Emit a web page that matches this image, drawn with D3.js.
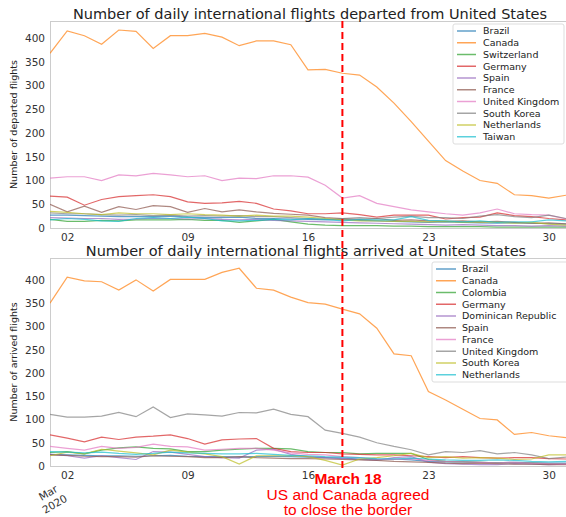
<!DOCTYPE html>
<html>
<head>
<meta charset="utf-8">
<script src="https://cdn.jsdelivr.net/npm/d3@7"></script>
<style>
  body { margin: 0; background: #fff; }
  svg { display: block; }
  text { font-family: "DejaVu Sans", sans-serif; }
</style>
</head>
<body>
<div id="chart"></div>
<script>
var W = 566, H = 517;

// days of March 2020
var days = [1,2,3,4,5,6,7,8,9,10,11,12,13,14,15,16,17,18,19,20,21,22,23,24,25,26,27,28,29,30,31];
var xTicks = [2, 9, 16, 23, 30];
var yTicks = [0, 50, 100, 150, 200, 250, 300, 350, 400];

// departed from US
var depNames = ['Brazil','Canada','Switzerland','Germany','Spain','France','United Kingdom','South Korea','Netherlands','Taiwan'];
var depBrazil  = [27,27,26,25,24,24,24,25,23,22,22,23,20,20,19,18,17,18,16,15,14,13,12,13,12,11,10,11,10,9,8];
var depCanada  = [368,415,405,387,417,414,378,405,405,410,402,384,394,394,386,333,334,326,322,297,263,224,183,142,120,100,94,70,68,63,69];
var depSwitz   = [18,14,14,16,15,17,17,17,18,16,16,12,15,18,13,8,6,5,5,5,4,4,3,3,3,3,2,2,2,2,2];
var depGermany = [67,65,48,60,66,68,70,66,55,52,53,56,52,40,36,30,30,32,28,23,27,27,27,19,22,23,32,26,24,20,17];
var depSpain   = [22,21,20,20,18,19,21,20,19,20,18,17,18,16,15,14,13,12,11,10,9,8,7,6,7,6,5,5,4,5,4];
var depFrance  = [50,34,46,33,45,39,47,45,33,41,34,38,34,31,29,27,22,20,18,20,16,17,15,14,15,13,14,12,10,11,9];
var depUK      = [105,108,108,100,112,110,115,112,108,110,100,105,104,110,110,107,90,63,68,52,45,38,34,30,27,32,40,30,28,27,19];
var depKorea   = [32,30,30,28,27,28,26,27,25,26,25,26,24,24,22,20,18,20,22,20,23,25,22,22,20,25,28,24,22,27,20];
var depNeth    = [35,33,30,28,32,30,30,28,30,28,27,25,27,25,25,23,20,17,15,15,14,14,13,14,12,13,12,10,12,8,6];
var depTaiwan  = [17,20,18,15,14,20,22,20,23,20,15,15,16,18,17,20,18,15,18,17,17,24,16,15,13,15,12,13,13,17,15];

// arrived at US
var arrNames = ['Brazil','Canada','Colombia','Germany','Dominican Republic','Spain','France','United Kingdom','South Korea','Netherlands'];
var arrBrazil  = [25,24,23,22,22,21,22,23,21,20,20,19,20,21,20,19,18,17,15,14,15,13,10,9,9,8,7,8,7,6,6];
var arrCanada  = [350,406,398,396,378,400,376,401,401,401,416,425,382,378,363,351,348,337,327,296,241,237,160,142,122,102,99,68,72,65,61];
var arrColomb  = [29,31,26,34,39,41,38,37,31,31,34,36,38,38,37,31,29,29,26,27,27,27,14,10,9,8,7,7,6,5,4];
var arrGermany = [67,60,52,62,57,62,64,67,59,47,56,58,59,38,31,29,29,26,25,24,24,22,20,18,20,18,17,18,18,16,15];
var arrDomRep  = [25,22,17,22,18,14,31,30,25,20,18,17,34,36,25,20,18,16,14,12,18,20,8,5,4,3,3,5,4,3,4];
var arrSpain   = [24,23,21,20,20,19,22,21,20,18,18,20,18,17,16,16,15,14,13,12,10,9,8,6,5,6,5,4,4,3,3];
var arrFrance  = [42,38,34,42,38,40,47,42,41,34,36,38,38,34,28,25,24,20,18,15,14,16,12,10,9,8,7,8,6,5,4];
var arrUK      = [111,105,105,107,115,106,127,104,112,110,107,115,114,122,111,106,77,70,62,50,42,35,24,31,29,33,26,29,24,16,19];
var arrKorea   = [22,30,26,36,32,28,24,34,30,26,20,4,22,22,22,20,12,2,15,18,22,27,18,20,17,18,17,14,15,24,24];
var arrNeth    = [31,30,28,30,27,25,27,30,28,27,26,26,27,25,23,22,20,19,18,16,15,17,15,13,12,12,13,12,10,9,10];

var tab10 = ['#1f77b4','#ff7f0e','#2ca02c','#d62728','#9467bd','#8c564b','#e377c2','#7f7f7f','#bcbd22','#17becf'];

var svg = d3.select('#chart').append('svg')
  .attr('width', W)
  .attr('height', H);

var x = d3.scaleTime()
  .domain([new Date(2020, 2, 1), new Date(2020, 2, 31)])
  .range([50, 566]);

function dateOf(d) { return new Date(2020, 2, d); }

function drawPanel(opts) {
  var y = d3.scaleLinear().domain([0, opts.yMax]).range([opts.bottom, opts.top]);
  var g = svg.append('g');

  g.append('clipPath').attr('id', opts.id)
    .append('rect')
    .attr('x', 50).attr('y', opts.top)
    .attr('width', W - 50).attr('height', opts.bottom - opts.top);

  // frame
  g.append('rect')
    .attr('x', 50.5).attr('y', opts.top + 0.5)
    .attr('width', W).attr('height', opts.bottom - opts.top)
    .attr('fill', 'none')
    .attr('stroke', '#cccccc')
    .attr('stroke-width', 1);

  var line = d3.line()
    .x(function(d, i) { return x(dateOf(days[i])); })
    .y(function(d) { return y(d); });

  var lines = g.append('g').attr('clip-path', 'url(#' + opts.id + ')');
  opts.series.forEach(function(s, i) {
    lines.append('path')
      .attr('d', line(s))
      .attr('fill', 'none')
      .attr('stroke', tab10[i])
      .attr('stroke-opacity', 0.7)
      .attr('stroke-width', 1.2);
  });

  var yAxis = g.append('g')
    .attr('transform', 'translate(50,0)')
    .call(d3.axisLeft(y).tickValues(yTicks).tickSize(0).tickPadding(5));
  yAxis.select('.domain').remove();
  yAxis.selectAll('text')
    .attr('fill', '#333')
    .style('font-size', '10.5px')
    .style('font-family', '"DejaVu Sans", sans-serif');

  var xAxis = g.append('g')
    .attr('transform', 'translate(0,' + opts.bottom + ')')
    .call(d3.axisBottom(x)
      .tickValues(xTicks.map(dateOf))
      .tickFormat(d3.timeFormat('%d'))
      .tickSize(0).tickPadding(6));
  xAxis.select('.domain').remove();
  xAxis.selectAll('text')
    .attr('fill', '#333')
    .style('font-size', '10.5px')
    .style('font-family', '"DejaVu Sans", sans-serif');

  // title
  svg.append('text')
    .attr('x', opts.tcx).attr('y', opts.top - 2.5)
    .attr('text-anchor', 'middle')
    .style('font-size', '14.5px')
    .attr('fill', '#222')
    .text(opts.title);

  // y label
  svg.append('text')
    .attr('transform', 'translate(17,' + ((opts.top + opts.bottom) / 2) + ') rotate(-90)')
    .attr('text-anchor', 'middle')
    .style('font-size', '9.5px')
    .attr('fill', '#222')
    .text(opts.ylabel);

  // legend
  var lg = svg.append('g');
  var n = opts.names.length;
  lg.append('rect')
    .attr('x', opts.lx).attr('y', opts.ly)
    .attr('width', opts.lw).attr('height', n * 11.8 + 2)
    .attr('rx', 2)
    .attr('fill', '#fff')
    .attr('fill-opacity', 0.8)
    .attr('stroke', '#dddddd');
  opts.names.forEach(function(name, i) {
    var yy = opts.ly + 7 + i * 11.75;
    lg.append('line')
      .attr('x1', opts.lx + 4).attr('x2', opts.lx + 4 + opts.hl)
      .attr('y1', yy).attr('y2', yy)
      .attr('stroke', tab10[i])
      .attr('stroke-opacity', 0.7)
      .attr('stroke-width', 1.5);
    lg.append('text')
      .attr('x', opts.lx + opts.tx).attr('y', yy + 3.3)
      .style('font-size', '9.5px')
      .attr('fill', '#222')
      .text(name);
  });
  return y;
}

drawPanel({
  id: 'clipTop', top: 21, bottom: 228, yMax: 436, tcx: 310,
  series: [depBrazil, depCanada, depSwitz, depGermany, depSpain, depFrance, depUK, depKorea, depNeth, depTaiwan],
  names: depNames,
  title: 'Number of daily international flights departed from United States',
  ylabel: 'Number of departed flights',
  lx: 453, ly: 24, lw: 111, hl: 19, tx: 30
});

drawPanel({
  id: 'clipBot', top: 258, bottom: 466, yMax: 447, tcx: 306,
  series: [arrBrazil, arrCanada, arrColomb, arrGermany, arrDomRep, arrSpain, arrFrance, arrUK, arrKorea, arrNeth],
  names: arrNames,
  title: 'Number of daily international flights arrived at United States',
  ylabel: 'Number of arrived flights',
  lx: 432, ly: 262, lw: 140, hl: 20, tx: 30
});

// March 18 marker
var mx = x(dateOf(18));
svg.append('line')
  .attr('x1', mx).attr('x2', mx)
  .attr('y1', 21).attr('y2', 470)
  .attr('stroke', '#ff0000')
  .attr('stroke-width', 2)
  .attr('stroke-dasharray', '7,4');

// Mar 2020 label
svg.append('text')
  .attr('transform', 'translate(50,496) rotate(-30)')
  .attr('text-anchor', 'middle')
  .style('font-size', '10.5px')
  .attr('fill', '#333')
  .selectAll('tspan')
  .data(['Mar', '2020'])
  .join('tspan')
  .attr('x', 0)
  .attr('dy', function(d, i) { return i ? 13 : 0; })
  .text(function(d) { return d; });

var note = ['March 18', 'US and Canada agreed', 'to close the border'];
svg.selectAll('.note')
  .data(note)
  .join('text')
  .attr('class', 'note')
  .attr('x', 348)
  .attr('y', function(d, i) { return 484 + i * 15.5; })
  .attr('text-anchor', 'middle')
  .style('font-family', '"Liberation Sans", Arial, sans-serif')
  .style('font-size', '15.5px')
  .style('font-weight', function(d, i) { return i ? 'normal' : 'bold'; })
  .attr('fill', '#ff0000')
  .text(function(d) { return d; });
</script>
</body>
</html>
